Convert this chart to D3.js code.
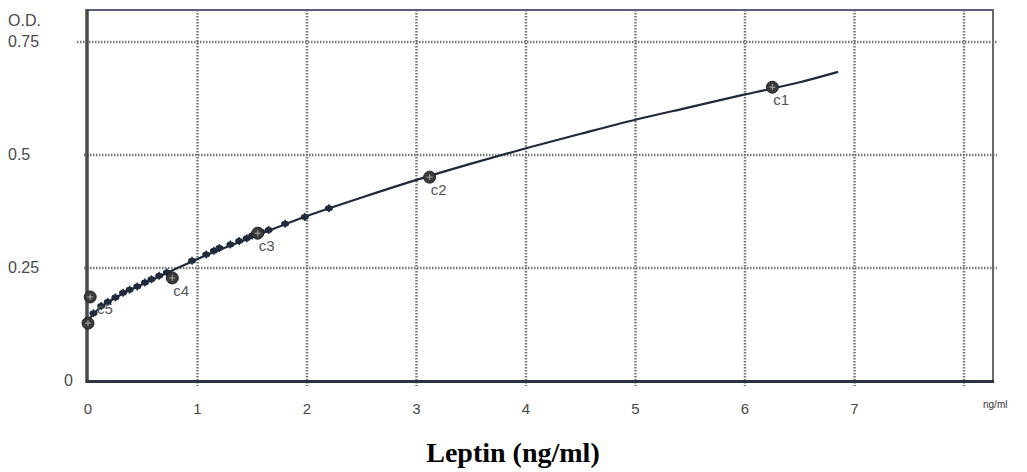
<!DOCTYPE html>
<html><head><meta charset="utf-8">
<script src="https://cdn.jsdelivr.net/npm/d3@7"></script>
<style>body{margin:0;background:#fff}svg{display:block}</style>
</head><body>
<svg id="c" width="1027" height="472"></svg>
<script>
// ---- data ----
const curveX  = [0, 0.1, 0.2, 0.3, 0.5, 0.75, 1, 1.5, 2, 2.5, 3, 3.5, 4, 4.5, 5, 5.5, 6, 6.5, 6.85];
const curveOD = [0.135, 0.160, 0.177, 0.191, 0.214, 0.242, 0.270, 0.318, 0.365, 0.406, 0.445, 0.481, 0.515, 0.547, 0.578, 0.606, 0.634, 0.661, 0.684];
const sampleX  = [0.05, 0.12, 0.18, 0.25, 0.32, 0.38, 0.45, 0.52, 0.58, 0.65, 0.72, 0.95, 1.08, 1.15, 1.2, 1.3, 1.38, 1.45, 1.5, 1.58, 1.65, 1.8, 1.98, 2.2];
const sampleOD = [0.150, 0.166, 0.175, 0.185, 0.195, 0.202, 0.209, 0.218, 0.225, 0.233, 0.240, 0.266, 0.280, 0.288, 0.294, 0.302, 0.310, 0.316, 0.322, 0.330, 0.334, 0.348, 0.363, 0.382];
const stdNames = ["c1", "c2", "c3", "c4", "c5", ""];
const stdX  = [6.25, 3.12, 1.55, 0.77, 0.0, 0.02];
const stdOD = [0.650, 0.451, 0.327, 0.228, 0.128, 0.186];
const xTicks = [0, 1, 2, 3, 4, 5, 6, 7];
const xGrid  = [1, 2, 3, 4, 5, 6, 7, 8];
const yTicks = [0, 0.25, 0.5, 0.75];
const yTickLabels = ["0", "0.25", "0.5", "0.75"];

// ---- layout ----
const svg = d3.select("#c");
const x = d3.scaleLinear().domain([0, 8.265]).range([88, 993]);
const y = d3.scaleLinear().domain([0, 0.8208]).range([381, 10]);

// grid
svg.append("g").selectAll("line").data(xGrid).join("line")
  .attr("x1", d => x(d)).attr("x2", d => x(d)).attr("y1", 10).attr("y2", 386)
  .attr("stroke", "#777").attr("stroke-width", 2.5).attr("stroke-dasharray", "1.5,1.5");
svg.append("g").selectAll("line").data(yTicks.filter(d => d > 0)).join("line")
  .attr("x1", d => d === 0.75 ? 77 : 84).attr("x2", 997)
  .attr("y1", d => y(d)).attr("y2", d => y(d))
  .attr("stroke", "#777").attr("stroke-width", 2.5).attr("stroke-dasharray", "1.5,1.5");

// frame
svg.append("line").attr("x1", 88).attr("x2", 993).attr("y1", 10).attr("y2", 10).attr("stroke", "#5a5f80").attr("stroke-width", 2);
svg.append("line").attr("x1", 993).attr("x2", 993).attr("y1", 9).attr("y2", 382).attr("stroke", "#6a6a6a").attr("stroke-width", 2);
svg.append("line").attr("x1", 87).attr("x2", 87).attr("y1", 9).attr("y2", 383).attr("stroke", "#4a4a4a").attr("stroke-width", 3.5);
svg.append("line").attr("x1", 86).attr("x2", 994).attr("y1", 381.5).attr("y2", 381.5).attr("stroke", "#2e3340").attr("stroke-width", 3);

// axis labels
const font = "'Liberation Sans', Arial, sans-serif";
svg.append("g").selectAll("text").data(xTicks).join("text")
  .attr("x", d => x(d)).attr("y", 414).attr("text-anchor", "middle")
  .attr("font-family", font).attr("font-size", 15).attr("fill", "#4a4a4a").text(d => d);
svg.append("g").selectAll("text").data(yTicks).join("text")
  .attr("x", (d, i) => i === 0 ? 64 : 8).attr("y", d => y(d) + 5)
  .attr("font-family", font).attr("font-size", 16).attr("fill", "#4a4a4a").text((d, i) => yTickLabels[i]);
svg.append("text").attr("x", 8).attr("y", 26).attr("font-family", font).attr("font-size", 16).attr("fill", "#4a4a4a").text("O.D.");
svg.append("text").attr("x", 983).attr("y", 408).attr("font-family", font).attr("font-size", 10).attr("fill", "#333").text("ng/ml");

// curve
const pts = curveX.map((v, i) => [v, curveOD[i]]);
svg.append("path").datum(pts)
  .attr("d", d3.line().x(d => x(d[0])).y(d => y(d[1])).curve(d3.curveMonotoneX))
  .attr("fill", "none").attr("stroke", "#1f2a3d").attr("stroke-width", 2.2);

// sample marks
const sg = svg.append("g");
sampleX.forEach((v, i) => {
  const px = x(v), py = y(sampleOD[i]);
  sg.append("line").attr("x1", px).attr("x2", px).attr("y1", py - 4).attr("y2", py + 4).attr("stroke", "#1f2a3d").attr("stroke-width", 1.5);
  sg.append("ellipse").attr("cx", px).attr("cy", py).attr("rx", 4).attr("ry", 3).attr("fill", "#1f2a3d");
});

// standards
const std = svg.append("g");
stdX.forEach((v, i) => {
  const px = x(v), py = y(stdOD[i]);
  std.append("circle").attr("cx", px).attr("cy", py).attr("r", 6).attr("fill", "#3a3a3a").attr("stroke", "#222").attr("stroke-width", 1);
  std.append("line").attr("x1", px - 3).attr("x2", px + 3).attr("y1", py).attr("y2", py).attr("stroke", "#aaa").attr("stroke-width", 1);
  std.append("line").attr("x1", px).attr("x2", px).attr("y1", py - 3).attr("y2", py + 3).attr("stroke", "#aaa").attr("stroke-width", 1);
  if (stdNames[i]) {
    std.append("text").attr("x", px + (i === 4 ? 9 : 1)).attr("y", py + (i === 4 ? -9 : 18))
      .attr("font-family", font).attr("font-size", 15).attr("fill", "#555").text(stdNames[i]);
  }
});

// title
svg.append("text").attr("x", 513).attr("y", 462).attr("text-anchor", "middle")
  .attr("font-family", "'Liberation Serif', 'Times New Roman', serif").attr("font-weight", "bold")
  .attr("font-size", 28).attr("fill", "#000").text("Leptin (ng/ml)");
</script>
</body></html>
